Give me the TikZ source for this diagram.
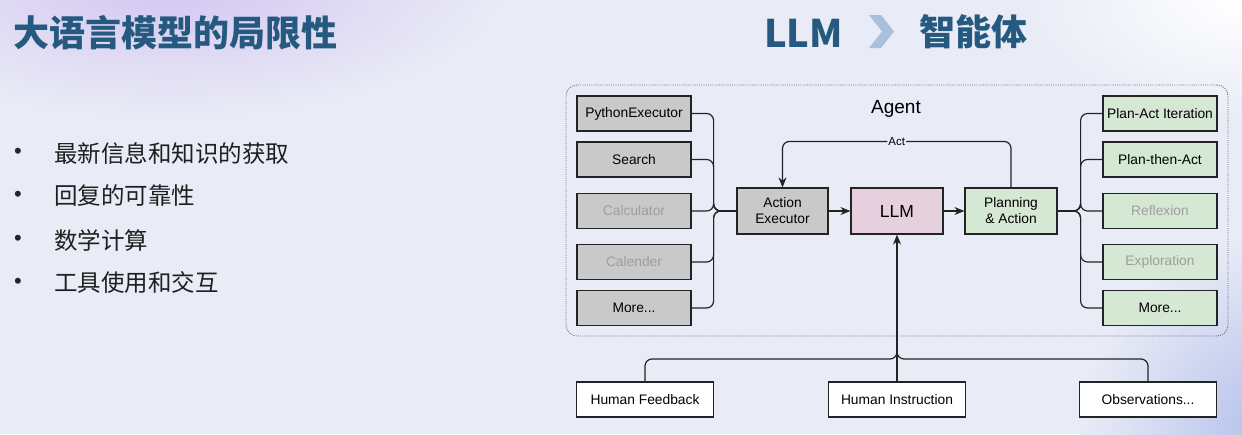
\documentclass[tikz,border=0pt]{standalone}
\usepackage{fontspec}
\setmainfont{Liberation Sans}
\newfontfamily\cjk{Noto Sans CJK SC}
\usetikzlibrary{arrows.meta}
\definecolor{bgc}{RGB}{233,236,246}
\definecolor{purpc}{RGB}{212,196,242}
\definecolor{bluec}{RGB}{178,190,236}
\definecolor{titlec}{RGB}{38,89,127}
\definecolor{chev}{RGB}{168,192,219}
\definecolor{boxgray}{RGB}{201,201,201}
\definecolor{boxgreen}{RGB}{213,232,212}
\definecolor{boxpink}{RGB}{230,208,222}
\definecolor{linec}{RGB}{35,35,35}
\definecolor{dimtext}{RGB}{158,158,158}
\definecolor{dotc}{RGB}{100,100,110}
\begin{document}
\begin{tikzpicture}[x=1pt,y=-1pt,
  box/.style={draw=linec, line width=1.2pt, minimum width=114pt, minimum height=35pt, inner sep=0pt, font=\fontsize{13.8}{16}\selectfont, text=black, align=center},
  graybox/.style={box, fill=boxgray},
  greenbox/.style={box, fill=boxgreen},
  whitebox/.style={box, fill=white, minimum width=137pt},
  midbox/.style={box, minimum width=92pt, minimum height=46pt},
  dim/.style={text=dimtext},
  conn/.style={draw=linec, line width=1.2pt, rounded corners=7pt},
  arr/.style={conn, -{Stealth[length=10pt,width=8pt]}},
  titlefont/.style={font=\cjk\bfseries\fontsize{36}{40}\selectfont, text=titlec, inner sep=0pt, anchor=west},
  bul/.style={font=\fontsize{22}{24}\selectfont, text=black!85, inner sep=0pt},
  btext/.style={font=\cjk\fontsize{23.5}{28}\selectfont, text=black!88, inner sep=0pt, anchor=west},
]
% background
\fill[bgc] (0,0) rectangle (1242,434);
\useasboundingbox (0,0) rectangle (1242,434);
\begin{scope}
  \clip (0,0) rectangle (1242,434);
  \shade[inner color=purpc, outer color=bgc] (170,-20) ellipse [x radius=340pt, y radius=140pt];
  \shade[inner color=bluec, outer color=bgc] (1280,434) ellipse [x radius=200pt, y radius=200pt];
  \shade[inner color=white, outer color=bgc] (1242,0) ellipse [x radius=220pt, y radius=120pt];
\end{scope}

% titles
\node[titlefont] (title) at (13,33) {大语言模型的局限性};
\node[titlefont, font=\cjk\bfseries\fontsize{38}{42}\selectfont] (llmtitle) at (764,33) {LLM};
\fill[chev] (869,15) -- (881,15) -- (894,31.5) -- (881,48) -- (869,48) -- (882,31.5) -- cycle;
\node[titlefont] (agenttitle) at (919,32) {智能体};

% bullets
\node[bul] (b1) at (18,153) {•};
\node[btext] (t1) at (54,153) {最新信息和知识的获取};
\node[bul] (b2) at (18,196) {•};
\node[btext] (t2) at (54,196) {回复的可靠性};
\node[bul] (b3) at (18,240) {•};
\node[btext] (t3) at (54,240) {数学计算};
\node[bul] (b4) at (18,283) {•};
\node[btext] (t4) at (54,283) {工具使用和交互};

% agent container
\node[draw=dotc, line width=0.9pt, dash pattern=on 0.9pt off 1.3pt, rounded corners=11pt,
      minimum width=662pt, minimum height=251pt, inner sep=0pt] (agentbox) at (897,210.5) {};
\node[font=\fontsize{19}{22}\selectfont] (agentlbl) at (896,109) {Agent};

% left tools
\node[graybox] (L1) at (634,113.5) {PythonExecutor};
\node[graybox] (L2) at (634,159.5) {Search};
\node[graybox, dim] (L3) at (634,211) {Calculator};
\node[graybox, dim] (L4) at (634,262) {Calender};
\node[graybox] (L5) at (634,308) {More...};

% core
\node[midbox, fill=boxgray, minimum width=91pt] (AE) at (782.5,211) {Action\\Executor};
\node[midbox, fill=boxpink, font=\fontsize{17.5}{20}\selectfont] (LLM) at (897,211) {LLM};
\node[midbox, fill=boxgreen] (PA) at (1011,211) {Planning\\\& Action};

% right strategies
\node[greenbox] (R1) at (1160,113.5) {Plan-Act Iteration};
\node[greenbox] (R2) at (1160,159.5) {Plan-then-Act};
\node[greenbox, dim] (R3) at (1160,211) {Reflexion};
\node[greenbox, dim] (R4) at (1160,262) {Exploration};
\node[greenbox] (R5) at (1160,308) {More...};

% inputs
\node[whitebox] (HF) at (645,399.5) {Human Feedback};
\node[whitebox] (HI) at (897,399.5) {Human Instruction};
\node[whitebox] (OB) at (1148,399.5) {Observations...};

% connectors left
\foreach \n in {L1,L2,L3,L4,L5}
  \draw[conn] (\n.east) -- ++(22,0) |- (AE.west);
% main flow
\draw[arr] (AE) -- (LLM);
\draw[arr] (LLM) -- (PA);
\draw[arr] (PA.north) -- ++(0,-46) -| (AE.north)
  node[pos=0.25, fill=bgc, inner sep=1pt, font=\fontsize{11.5}{12}\selectfont] (actlbl) {Act};
% connectors right
\foreach \n in {R1,R2,R3,R4,R5}
  \draw[conn] (PA.east) -- ++(23,0) |- (\n.west);
% bottom inputs
\coordinate (Jc) at (897,359);
\coordinate (J) at (897,345);
\draw[arr] (HI.north) -- (LLM.south);
\draw[conn] (HF.north) |- (Jc) -- (J);
\draw[conn] (OB.north) |- (Jc) -- (J);
\end{tikzpicture}
\end{document}
